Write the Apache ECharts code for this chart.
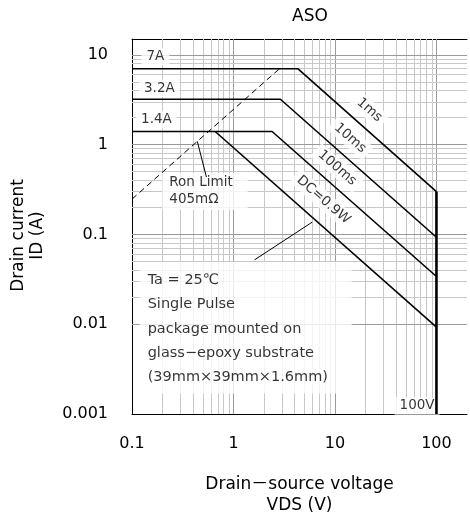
<!DOCTYPE html>
<html>
<head>
<meta charset="utf-8">
<script src="https://cdn.jsdelivr.net/npm/echarts@6/dist/echarts.min.js"></script>
<style>
html, body { margin: 0; padding: 0; background: #fff; }
#main { width: 470px; height: 524px; }
</style>
</head>
<body>
<div id="main"></div>
<script>
var FONT = '"DejaVu Sans", "Noto Sans CJK JP", sans-serif';

// axis ranges and tick labels
var xMin = 0.1, xMax = 200;
var yMin = 0.001, yMax = 15;
var xTickLabels = ['0.1', '1', '10', '100'];
var yTickLabels = ['0.001', '0.01', '0.1', '1', '10'];

// safe operating area boundaries, [VDS (V), ID (A)]
var pulse1ms = [[0.1, 7], [4.3, 7], [100, 0.3]];
var pulse10ms = [[0.1, 3.2], [2.9, 3.2], [100, 0.093]];
var pulse100ms = [[0.1, 1.4], [2.4, 1.4], [100, 0.034]];
var dcLine = [[0.66, 1.4], [100, 0.0093]];
var vdsLimit = [[100, 0.3], [100, 0.001]];
var ronLimit = [[0.1, 0.247], [2.84, 7]];
var ronLeader = [[0.44, 1.086], [0.541, 0.436]];
var dcLeader = [[5.97, 0.137], [1.61, 0.052]];

// annotations
var labelTexts = ['7A', '3.2A', '1.4A', '1ms', '10ms', '100ms', 'DC=0.9W', '100V'];
var labelPos = [[0.17, 9.57], [0.186, 4.22], [0.174, 1.9], [21.8, 2.43], [14.1, 1.18], [10.5, 0.55], [7.7, 0.241], [64.4, 0.00123]];
var labelRotate = [0, 0, 0, -41, -41, -41, -41, 0];
var ronText = 'Ron Limit\n405mΩ';
var ronPos = [0.199, 0.483];
var noteLines = ['Ta = 25℃', 'Single Pulse', 'package mounted on', 'glass−epoxy substrate', '(39mm×39mm×1.6mm)'];
var notePos = [0.119, 0.0493];

function isDecade(v) {
    var l = Math.log10(v);
    return Math.abs(l - Math.round(l)) < 1e-6;
}

function decadeLabel(list, v) {
    if (!isDecade(v)) return '';
    for (var i = 0; i < list.length; i++) {
        if (Math.abs(Math.log10(+list[i]) - Math.log10(v)) < 1e-6) return list[i];
    }
    return '';
}

// log grid: 1..9 in each decade
var gridLines = [];
for (var d = -1; d <= 2; d++) {
    for (var k = 1; k <= 9; k++) {
        var v = k * Math.pow(10, d);
        if (v <= xMin || v > 100) continue;
        gridLines.push({ xAxis: v, lineStyle: { color: k === 1 ? '#9a9a9a' : '#c8c8c8' } });
    }
}
for (var d2 = -3; d2 <= 1; d2++) {
    for (var k2 = 1; k2 <= 9; k2++) {
        var w = k2 * Math.pow(10, d2);
        if (w <= yMin || w >= yMax) continue;
        gridLines.push({ yAxis: w, lineStyle: { color: k2 === 1 ? '#9a9a9a' : '#c8c8c8' } });
    }
}

var labelData = labelTexts.map(function (t, i) {
    return {
        value: labelPos[i],
        label: { formatter: t, rotate: labelRotate[i] }
    };
});
labelData.push({
    value: ronPos,
    label: { formatter: ronText, position: [0, 0], lineHeight: 17, padding: [1, 15, 2, 7] }
});
labelData.push({
    value: notePos,
    label: {
        formatter: noteLines.join('\n'), position: [0, 0], fontSize: 14.5,
        lineHeight: 24.3, width: 196, padding: [6, 8, 4, 8]
    }
});

function curve(data, width, type) {
    return {
        type: 'line', data: data, z: 3, symbol: 'none', silent: true,
        lineStyle: { color: '#000', width: width, type: type || 'solid' }
    };
}

var logAxis = function (min, max) {
    return {
        type: 'log', logBase: 10, min: min, max: max,
        axisLine: { show: true, lineStyle: { color: '#000', width: 1 } },
        axisTick: { show: false },
        splitLine: { show: false },
        minorTick: { show: false }
    };
};

var xAxis = logAxis(xMin, xMax);
xAxis.axisLabel = {
    color: '#000', fontSize: 16, fontFamily: FONT, margin: 22,
    formatter: function (v) { return decadeLabel(xTickLabels, v); }
};
xAxis.name = 'Drain－source voltage\nVDS (V)';
xAxis.nameLocation = 'middle';
xAxis.nameGap = 60;
xAxis.nameTextStyle = { color: '#000', fontSize: 17, fontFamily: FONT, lineHeight: 21 };

var xTop = logAxis(xMin, xMax);
xTop.position = 'top';
xTop.axisLabel = { show: false };

var yAxis = logAxis(yMin, yMax);
yAxis.axisLabel = {
    color: '#000', fontSize: 16, fontFamily: FONT, margin: 24,
    formatter: function (v) { return decadeLabel(yTickLabels, v); }
};
yAxis.name = 'Drain current\nID (A)';
yAxis.nameLocation = 'middle';
yAxis.nameGap = 85;
yAxis.nameTextStyle = { color: '#000', fontSize: 17, fontFamily: FONT, lineHeight: 19, padding: [0, 18, 0, 0] };

var chart = echarts.init(document.getElementById('main'));
chart.setOption({
    animation: false,
    backgroundColor: '#fff',
    title: {
        text: 'ASO', left: 305, top: 3, textAlign: 'center',
        textStyle: { color: '#000', fontSize: 17, fontWeight: 'normal', fontFamily: FONT }
    },
    grid: { left: 132, top: 39, right: -4, bottom: 110 },
    xAxis: [xAxis, xTop],
    yAxis: yAxis,
    series: [
        {
            // grid lines
            type: 'line', data: [], z: 1, silent: true,
            markLine: {
                z: 1, silent: true, symbol: 'none', animation: false,
                label: { show: false },
                lineStyle: { type: 'solid', width: 1 },
                data: gridLines
            }
        },
        {
            type: 'scatter', data: labelData, z: 2, symbolSize: 0, silent: true,
            label: {
                show: true, position: 'inside', color: '#000', fontSize: 13.5, fontFamily: FONT,
                backgroundColor: '#fff', padding: [2, 5]
            }
        },
        curve(pulse1ms, 1.6),
        curve(pulse10ms, 1.6),
        curve(pulse100ms, 1.6),
        curve(dcLine, 1.6),
        curve(vdsLimit, 2.6),
        curve(ronLimit, 1, [6, 4]),
        curve(ronLeader, 1),
        curve(dcLeader, 1)
    ]
});
</script>
</body>
</html>
